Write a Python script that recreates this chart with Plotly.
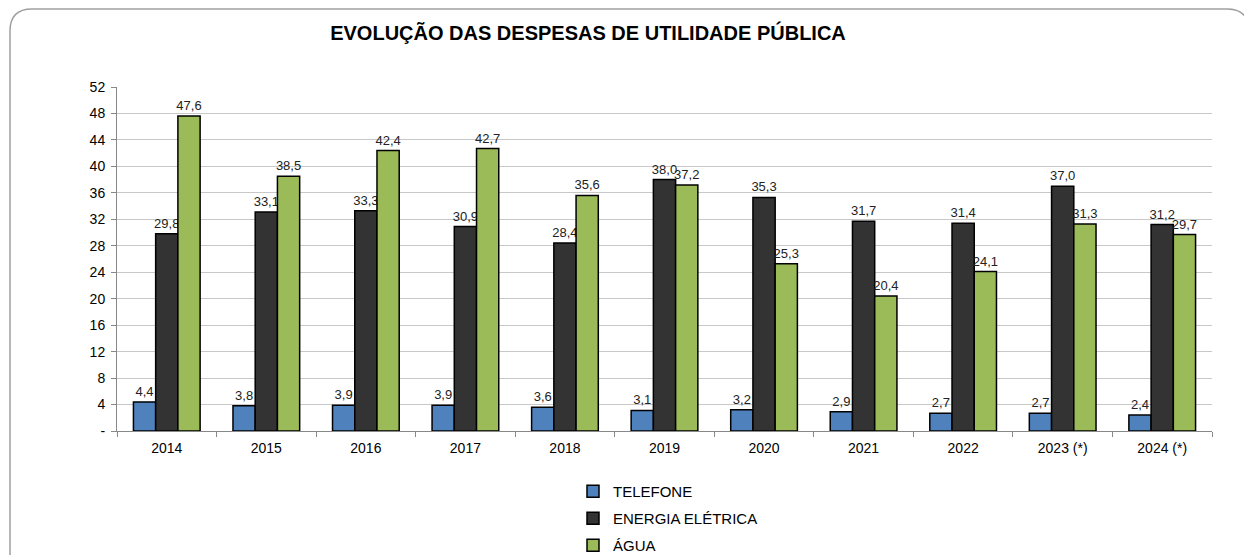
import plotly.graph_objects as go

categories = ["2014", "2015", "2016", "2017", "2018", "2019", "2020", "2021", "2022", "2023 (*)", "2024 (*)"]
telefone = [4.4, 3.8, 3.9, 3.9, 3.6, 3.1, 3.2, 2.9, 2.7, 2.7, 2.4]
energia = [29.8, 33.1, 33.3, 30.9, 28.4, 38.0, 35.3, 31.7, 31.4, 37.0, 31.2]
agua = [47.6, 38.5, 42.4, 42.7, 35.6, 37.2, 25.3, 20.4, 24.1, 31.3, 29.7]
series = [("TELEFONE", telefone, "#4F81BD"), ("ENERGIA ELÉTRICA", energia, "#333333"), ("ÁGUA", agua, "#9BBB59")]
yticks = list(range(0, 53, 4))
yticktext = ["-"] + [str(v) for v in yticks[1:]]

# page body has an 8px margin; work in figure coordinates
OFF = 8
W, H = 1252 - OFF, 555 - OFF
L, R, T, B = 117 - OFF, 1212 - OFF, 87 - OFF, 431 - OFF

def fmt(v):
    return f"{v:.1f}".replace(".", ",")

fig = go.Figure()
for i, (name, vals, col) in enumerate(series):
    fig.add_trace(go.Bar(
        x=categories, y=vals, name=name, marker=dict(color=col, line=dict(color="black", width=1.5)),
        text=[fmt(v) for v in vals], textposition="outside", cliponaxis=False, constraintext="none",
        textfont=dict(size=13, color="#222222", family="Liberation Sans, Arial"),
        legendgroup=f"g{i}",
    ))

def px(x):
    return (x - L) / (R - L)

def py(y):
    return (B - y) / (B - T)

x0, x1, y0, y1, r = 2, 1241, 1, 600, 22
path = (f"M {px(x0+r)},{py(y0)} L {px(x1-r)},{py(y0)} Q {px(x1)},{py(y0)} {px(x1)},{py(y0+r)} "
        f"L {px(x1)},{py(y1)} M {px(x0)},{py(y1)} L {px(x0)},{py(y0+r)} Q {px(x0)},{py(y0)} {px(x0+r)},{py(y0)}")
fig.add_shape(type="path", path=path, xref="paper", yref="paper", line=dict(color="#A0A0A0", width=1.5))

fig.update_layout(
    width=W, height=H,
    margin=dict(l=L, r=W - R, t=T, b=H - B, autoexpand=False),
    paper_bgcolor="white", plot_bgcolor="white",
    barmode="group", bargap=0.33, bargroupgap=0,
    font=dict(family="Liberation Sans, Arial", size=14, color="black"),
    title=dict(text="<b>EVOLUÇÃO DAS DESPESAS DE UTILIDADE PÚBLICA</b>", x=(588 - OFF) / W, xanchor="center",
               y=1 - (33 - OFF) / H, yanchor="middle", font=dict(size=20, color="black")),
    legend=dict(orientation="v", x=px(573 - OFF), xanchor="left", y=py(475 - OFF), yanchor="top",
                font=dict(size=15), tracegroupgap=4.5, itemwidth=30, traceorder="grouped"),
    showlegend=True,
)
fig.update_xaxes(showline=True, linecolor="#888888", linewidth=1, ticks="outside", tickson="boundaries",
                 tickcolor="#888888", ticklen=5, tickfont=dict(size=14), ticklabelstandoff=4)
fig.update_yaxes(range=[0, 52], tickvals=yticks, ticktext=yticktext, showgrid=True, gridcolor="#C8C8C8",
                 gridwidth=1, showline=True, linecolor="#888888", ticks="outside", tickcolor="#888888",
                 ticklen=5, tickfont=dict(size=14), zeroline=False, ticklabelstandoff=3)

fig.write_html("out.html")
